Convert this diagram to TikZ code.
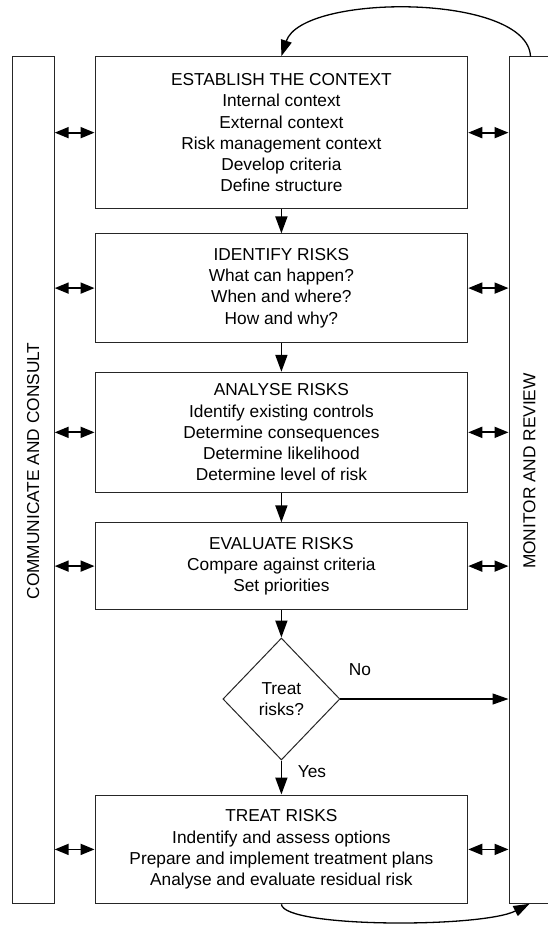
\documentclass[tikz,border=0pt]{standalone}
\usepackage{fontspec}
\setmainfont{Liberation Sans}
\usetikzlibrary{arrows.meta,shapes.geometric}
\begin{document}
\begin{tikzpicture}[x=1pt,y=-1pt,
  every node/.style={font=\fontsize{17.3}{21.2}\selectfont},
  box/.style={draw=black!85, line width=1pt, minimum width=372.7pt, align=center, inner sep=0pt},
  bar/.style={draw=black!85, line width=1pt, minimum width=42pt, minimum height=847.2pt, inner sep=0pt},
  decision/.style={diamond, draw=black!85, line width=1pt, minimum width=117pt, minimum height=122pt, inner sep=0pt, align=center},
  flow/.style={line width=1.8pt, -{Triangle[length=17pt,width=12pt]}},
  sideflow/.style={line width=1.3pt, -{Triangle[length=16pt,width=11pt]}},
  both/.style={line width=1.8pt, {Triangle[length=14pt,width=11pt]}-{Triangle[length=14pt,width=11pt]}},
  loopback/.style={line width=1.3pt, -{Triangle[length=16pt,width=11pt]}},
]
\clip (0,0) rectangle (548,928);
\fill[white] (0,0) rectangle (548,928);

% side bars
\node[bar] (L) at (33.2,480.2) {};
\node[bar] (R) at (530,480.2) {};
\node[rotate=90] (Ltxt) at (33.2,471) {COMMUNICATE AND CONSULT};
\node[rotate=90] (Rtxt) at (529.5,471) {MONITOR AND REVIEW};

% process boxes
\node[box, minimum height=152.1pt] (b1) at (281.4,132.65)
  {ESTABLISH THE CONTEXT\\Internal context\\External context\\Risk management context\\Develop criteria\\Define structure};
\node[box, minimum height=108.4pt] (b2) at (281.4,288.1)
  {IDENTIFY RISKS\\What can happen?\\When and where?\\How and why?};
\node[box, minimum height=120.1pt] (b3) at (281.4,432.35)
  {ANALYSE RISKS\\Identify existing controls\\Determine consequences\\Determine likelihood\\Determine level of risk};
\node[box, minimum height=86.6pt] (b4) at (281.4,566.1)
  {EVALUATE RISKS\\Compare against criteria\\Set priorities};
\node[decision] (d) at (281.4,699) {Treat\\risks?};
\node[box, minimum height=108.8pt] (b5) at (281.4,849.4)
  {TREAT RISKS\\Indentify and assess options\\Prepare and implement treatment plans\\Analyse and evaluate residual risk};

\node (no) at (360,670) {No};
\node (yes) at (312,772) {Yes};

% main flow
\draw[flow] (b1.south) -- (b2.north);
\draw[flow] (b2.south) -- (b3.north);
\draw[flow] (b3.south) -- (b4.north);
\draw[flow] (b4.south) -- (d.north);
\draw[flow] (d.south) -- (b5.north);
\draw[sideflow] (d.east) -- (d.east -| R.west);

% double arrows
\foreach \b in {b1,b2,b3,b4,b5}{
  \draw[both] (\b.west -| L.east) -- (\b.west);
  \draw[both] (\b.east) -- (\b.east -| R.west);
}

% loops
\coordinate (rtop) at (530.5,56.6);
\coordinate (rbot) at (529.5,903.8);
\draw[loopback] (rtop) .. controls (528,-7) and (302,-7) .. (b1.north);
\draw[loopback] (b5.south) .. controls (284,928) and (482,928) .. (rbot);
\end{tikzpicture}
\end{document}
